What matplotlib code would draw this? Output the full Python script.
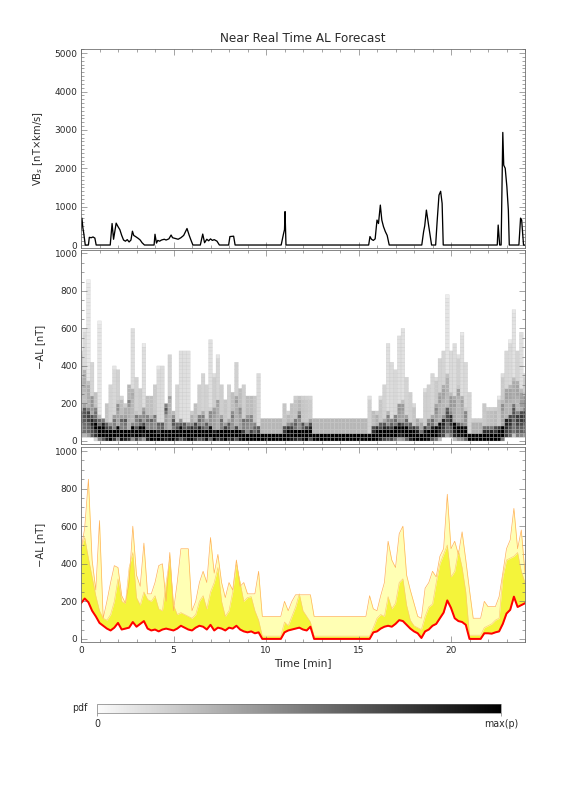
import numpy as np
import matplotlib
matplotlib.use("Agg")
import matplotlib.pyplot as plt
from matplotlib.colors import LinearSegmentedColormap, Normalize
from matplotlib.ticker import MultipleLocator
from matplotlib.cm import ScalarMappable

# ---------------- data ----------------
# VBs solar-wind driver (time [min], value [nT x km/s])
vbs_time = [0.0, 0.05, 0.1, 0.15, 0.23, 0.4, 0.45, 0.55, 0.65, 0.75, 0.82,
            1.58, 1.68, 1.76, 1.9, 2.0, 2.1, 2.2, 2.3, 2.4, 2.5, 2.6, 2.7, 2.78,
            2.85, 2.95, 3.1, 3.2, 3.3, 3.43, 3.95, 4.0, 4.08, 4.15, 4.25, 4.35,
            4.5, 4.6, 4.75, 4.87, 4.95, 5.1, 5.25, 5.4, 5.55, 5.73, 5.85, 5.95,
            6.05, 6.45, 6.58, 6.68, 6.8, 6.9, 7.0, 7.1, 7.2, 7.35, 7.48, 7.98,
            8.05, 8.25, 8.33, 10.82, 10.95, 11.0, 11.03, 11.08, 15.55, 15.62,
            15.7, 15.8, 15.9, 16.0, 16.08, 16.18, 16.26, 16.35, 16.45, 16.55,
            16.66, 18.42, 18.52, 18.58, 18.67, 18.8, 18.95, 19.17, 19.25, 19.35,
            19.44, 19.52, 19.58, 22.5, 22.55, 22.63, 22.71, 22.8, 22.85, 22.93,
            23.02, 23.1, 23.15, 23.67, 23.76, 23.82, 23.92, 24.0]
vbs_value = [400, 700, 450, 300, 0, 0, 200, 190, 210, 180, 0,
             0, 560, 150, 570, 480, 400, 250, 130, 100, 140, 80, 130, 360,
             250, 220, 170, 130, 60, 0, 0, 280, 50, 120, 100, 130,
             150, 130, 160, 260, 190, 170, 150, 190, 250, 430, 250, 120,
             0, 0, 285, 60, 150, 110, 160, 120, 140, 100, 0, 0,
             220, 230, 0, 0, 300, 400, 870, 0, 0, 220,
             150, 120, 160, 650, 560, 1040, 650, 480, 350, 250,
             0, 0, 350, 500, 910, 480, 0, 0, 610, 1300,
             1400, 1085, 0, 0, 520, 0, 0, 2934, 2080, 2000,
             1520, 910, 0, 0, 700, 650, 0, 0]

# AL forecast on a 0.2-min grid (t = 0.0 ... 24.0)
al_low = [190, 215, 195, 150, 120, 85, 70, 55, 45, 60,
          85, 50, 55, 60, 90, 65, 80, 95, 55, 45,
          50, 40, 50, 55, 50, 45, 55, 70, 60, 50,
          45, 60, 70, 65, 50, 75, 45, 60, 55, 45,
          60, 55, 70, 50, 40, 35, 40, 30, 35, 0,
          0, 0, 0, 0, 0, 35, 45, 50, 55, 60,
          50, 45, 65, 0, 0, 0, 0, 0, 0, 0,
          0, 0, 0, 0, 0, 0, 0, 0, 0, 35,
          40, 55, 65, 70, 65, 80, 100, 95, 75, 55,
          40, 30, 5, 40, 50, 70, 80, 110, 140, 205,
          165, 110, 95, 90, 75, 0, 0, 0, 0, 30,
          30, 28, 35, 40, 80, 135, 155, 225, 170, 180,
          190]
al_mid = [480, 540, 430, 330, 230, 150, 110, 100, 130, 200,
          320, 200, 190, 380, 460, 220, 180, 250, 210, 200,
          230, 160, 150, 300, 430, 180, 130, 140, 130, 120,
          110, 130, 200, 230, 160, 250, 300, 380, 200, 120,
          150, 250, 400, 300, 200, 220, 225, 150, 100, 15,
          15, 15, 15, 15, 15, 90, 70, 120, 170, 240,
          150, 120, 90, 15, 15, 15, 15, 15, 15, 15,
          15, 15, 15, 15, 15, 15, 15, 15, 15, 60,
          110, 130, 120, 225, 160, 190, 300, 320, 180, 100,
          70, 60, 50, 120, 170, 185, 300, 400, 450, 500,
          330, 360, 470, 380, 250, 20, 20, 20, 20, 60,
          70, 80, 100, 110, 330, 420, 430, 440, 460, 360,
          300]
al_high = [470, 590, 850, 420, 260, 630, 110, 200, 300, 390,
           380, 230, 190, 300, 600, 340, 280, 510, 240, 240,
           300, 390, 400, 200, 460, 150, 300, 480, 480, 480,
           150, 200, 300, 360, 300, 540, 350, 450, 300, 220,
           300, 260, 420, 280, 300, 240, 240, 240, 360, 120,
           120, 120, 120, 120, 120, 200, 150, 200, 235, 235,
           235, 235, 235, 120, 120, 120, 120, 120, 120, 120,
           120, 120, 120, 120, 120, 120, 120, 120, 230, 160,
           150, 230, 300, 520, 420, 380, 560, 600, 340, 260,
           190, 120, 110, 270, 300, 360, 330, 440, 480, 770,
           480, 520, 450, 570, 420, 260, 110, 110, 110, 200,
           172, 172, 172, 225, 350, 480, 527, 695, 480, 580,
           350]

t_grid = np.round(np.arange(len(al_low)) * 0.2, 1)
lo = np.array(al_low, float)
mid = np.array(al_mid, float)
hi = np.array(al_high, float)

# ---------------- pdf of forecast ensemble (derived from the quantile curves) ----------------
al_edges = np.arange(0, 1001, 20.0)
t_edges = np.concatenate(([0.0], (t_grid[:-1] + t_grid[1:]) / 2, [24.0]))


def overlap(a, b, e0, e1):
    return np.clip(np.minimum(b, e1) - np.maximum(a, e0), 0, None)


dens = np.zeros((len(al_edges) - 1, len(t_grid)))
e0 = al_edges[:-1]
e1 = al_edges[1:]
for i in range(len(t_grid)):
    comps = [(0.55, 0.15 * lo[i], 0.8 * lo[i] + 12),
             (0.30, 0.5 * lo[i], max(0.5 * mid[i] + 0.5 * lo[i], lo[i] + 40)),
             (0.15, 0.5 * mid[i], max(hi[i], 0.5 * mid[i] + 20))]
    for m, a, b in comps:
        dens[:, i] += m * overlap(a, b, e0, e1) / (b - a)
inten = np.clip(dens / 0.17, 0, 1) ** 0.7
inten = np.ma.masked_where(inten < 0.03, inten)

# ---------------- figure ----------------
AXC = "#6a6a6a"
TXC = "#2a2a2a"
plt.rcParams["font.family"] = ["DejaVu Sans"]

fig = plt.figure(figsize=(8, 11), dpi=72)
L, W = 81 / 576, 444 / 576
ax1 = fig.add_axes([L, 1 - 247.7 / 792, W, 198.4 / 792])
ax2 = fig.add_axes([L, 1 - 444 / 792, W, 194 / 792])
ax3 = fig.add_axes([L, 1 - 642.3 / 792, W, 195 / 792])


def style(ax, ymaj, ymin, ylim):
    ax.set_xlim(0, 24)
    ax.set_ylim(*ylim)
    ax.xaxis.set_major_locator(MultipleLocator(5))
    ax.xaxis.set_minor_locator(MultipleLocator(1))
    ax.yaxis.set_major_locator(MultipleLocator(ymaj))
    ax.yaxis.set_minor_locator(MultipleLocator(ymin))
    ax.tick_params(which="both", direction="in", top=True, right=True,
                   color=AXC, labelcolor=TXC, labelsize=9, width=0.6)
    ax.tick_params(which="major", length=6)
    ax.tick_params(which="minor", length=3)
    for s in ax.spines.values():
        s.set_color(AXC)
        s.set_linewidth(0.8)


# top panel
ax1.plot(vbs_time, vbs_value, color="black", lw=1.3)
style(ax1, 1000, 100, (-70, 5100))
ax1.tick_params(labelbottom=False)
ax1.set_ylabel("VB$_s$ [nT×km/s]", fontsize=10, color=TXC)
ax1.yaxis.set_label_coords(-0.08, 0.5)

# middle panel
cmap = LinearSegmentedColormap.from_list("pdfgray", ["#fbfbfb", "#000000"])
ax2.pcolor(t_edges, al_edges, inten, cmap=cmap, norm=Normalize(0, 1),
           edgecolors="#c4c4c4", linewidth=0.25)
style(ax2, 200, 50, (-16, 1018))
ax2.tick_params(labelbottom=False)
ax2.set_ylabel("−AL [nT]", fontsize=10, color=TXC)
ax2.yaxis.set_label_coords(-0.08, 0.5)

# bottom panel
ax3.fill_between(t_grid, mid, hi, color="#ffffb4", lw=0)
ax3.fill_between(t_grid, lo, mid, color="#f4f43a", lw=0)
ax3.plot(t_grid, hi, color="#ffb25a", lw=0.7)
ax3.plot(t_grid, mid, color="#ffc870", lw=0.6)
ax3.plot(t_grid, lo, color="#ff0000", lw=2.0)
style(ax3, 200, 50, (-18, 1020))
ax3.set_ylabel("−AL [nT]", fontsize=10, color=TXC)
ax3.yaxis.set_label_coords(-0.08, 0.5)
ax3.set_xlabel("Time [min]", fontsize=10.5, color=TXC, labelpad=3)

fig.text(303 / 576, 1 - 38 / 792, "Near Real Time AL Forecast",
         ha="center", va="center", fontsize=12, color=TXC)

# colour bar
cax = fig.add_axes([97.3 / 576, 1 - 712.7 / 792, 403.7 / 576, 8.4 / 792])
cb = fig.colorbar(ScalarMappable(norm=Normalize(0, 1), cmap=cmap), cax=cax,
                  orientation="horizontal")
cb.set_ticks([0, 1])
cb.set_ticklabels(["0", "max(p)"])
cb.outline.set_edgecolor(AXC)
cb.outline.set_linewidth(0.6)
cax.tick_params(length=3, labelsize=9.5, color=AXC, labelcolor=TXC, width=0.6)
fig.text(80 / 576, 1 - 708 / 792, "pdf", ha="center", va="center",
         fontsize=9.5, color=TXC)

fig.savefig("out.png", dpi=72)
